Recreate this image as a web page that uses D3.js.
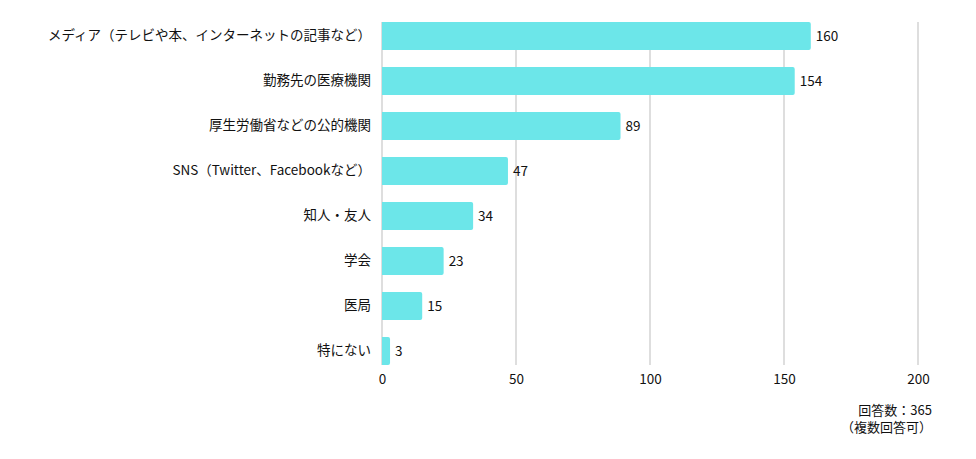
<!DOCTYPE html>
<html>
<head>
<meta charset="utf-8">
<script src="https://cdn.jsdelivr.net/npm/d3@7"></script>
<style>
  body { margin: 0; background: #fff; }
  text { font-family: "Noto Sans CJK JP", "Noto Sans", sans-serif; fill: #111; }
</style>
</head>
<body>
<div id="chart"></div>
<script>
// answers and counts, top to bottom
var categories = [
  "メディア（テレビや本、インターネットの記事など）",
  "勤務先の医療機関",
  "厚生労働省などの公的機関",
  "SNS（Twitter、Facebookなど）",
  "知人・友人",
  "学会",
  "医局",
  "特にない"
];
var counts = [160, 154, 89, 47, 34, 23, 15, 3];
var xTicks = [0, 50, 100, 150, 200];
var noteLines = ["回答数：365", "（複数回答可）"];

var width = 976, height = 459;
var plotLeft = 382, plotRight = 918;
var bandTop = 5, bandBottom = 382;
var fontSize = "13.5px";

var svg = d3.select("#chart").append("svg")
    .attr("width", width)
    .attr("height", height);

var x = d3.scaleLinear()
    .domain([0, 200])
    .range([plotLeft, plotRight]);

var y = d3.scaleBand()
    .domain(categories)
    .range([bandTop, bandBottom])
    .padding(17 / 45);

var gridTop = y(categories[0]);
var gridBottom = y(categories[categories.length - 1]) + y.bandwidth();

// grid lines
svg.append("g")
  .selectAll("line")
  .data(xTicks)
  .enter().append("line")
    .attr("x1", function(d) { return x(d); })
    .attr("x2", function(d) { return x(d); })
    .attr("y1", gridTop)
    .attr("y2", gridBottom)
    .attr("stroke", "#d3d3d3")
    .attr("stroke-width", 1.5);

// bars (rounded on the right end only)
svg.append("g")
  .selectAll("path")
  .data(counts)
  .enter().append("path")
    .attr("fill", "#6ce6e9")
    .attr("d", function(d, i) {
      var x0 = x(0), x1 = x(d), y0 = y(categories[i]), h = y.bandwidth(), r = 2;
      return "M" + x0 + "," + y0 +
             "H" + (x1 - r) + "Q" + x1 + "," + y0 + " " + x1 + "," + (y0 + r) +
             "V" + (y0 + h - r) + "Q" + x1 + "," + (y0 + h) + " " + (x1 - r) + "," + (y0 + h) +
             "H" + x0 + "Z";
    });

// value labels
svg.append("g")
  .selectAll("text")
  .data(counts)
  .enter().append("text")
    .attr("x", function(d) { return x(d) + 5; })
    .attr("y", function(d, i) { return y(categories[i]) + y.bandwidth() / 2; })
    .attr("dy", "0.35em")
    .style("font-size", fontSize)
    .text(function(d) { return d; });

// category labels
var yAxis = svg.append("g")
    .attr("transform", "translate(" + (plotLeft - 11) + ",0)")
    .call(d3.axisLeft(y).tickSize(0).tickPadding(0));
yAxis.select(".domain").remove();
yAxis.selectAll("text")
    .style("font-size", fontSize)
    .attr("fill", "#111");

// x axis labels
var xAxis = svg.append("g")
    .attr("transform", "translate(0," + gridBottom + ")")
    .call(d3.axisBottom(x).tickValues(xTicks).tickSize(0).tickPadding(9));
xAxis.select(".domain").remove();
xAxis.selectAll("text")
    .style("font-size", fontSize)
    .attr("fill", "#111");

// footnote
svg.append("g")
  .selectAll("text")
  .data(noteLines)
  .enter().append("text")
    .attr("x", 932)
    .attr("y", function(d, i) { return 410 + i * 17.5; })
    .attr("dy", "0.35em")
    .attr("text-anchor", "end")
    .style("font-size", "13px")
    .text(function(d) { return d; });
</script>
</body>
</html>
